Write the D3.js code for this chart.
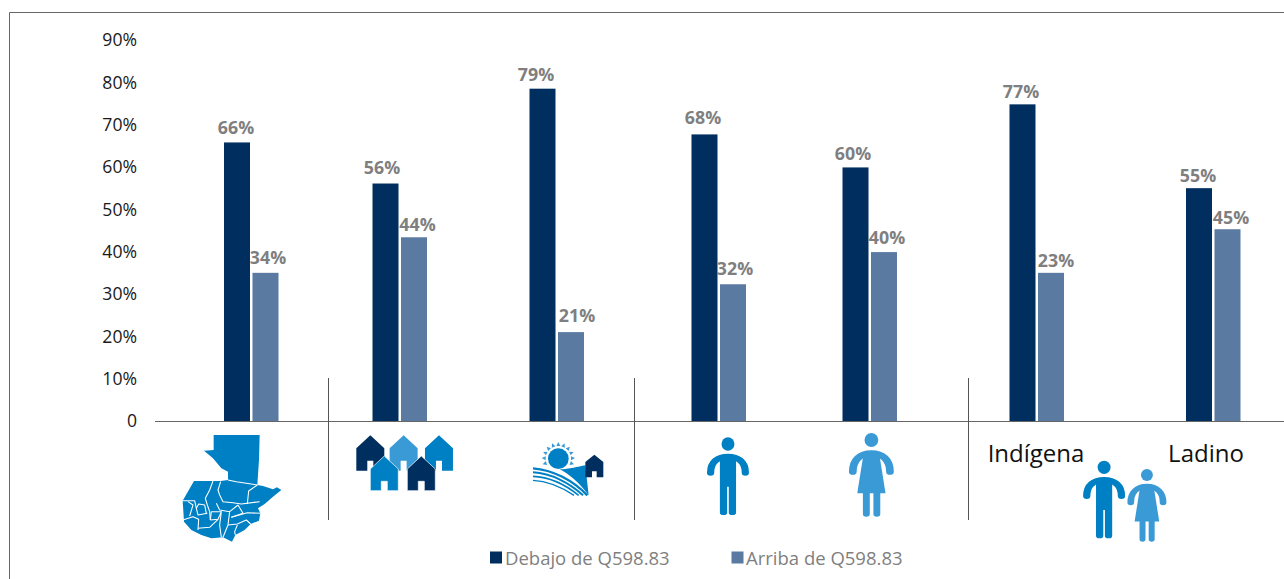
<!DOCTYPE html>
<html>
<head>
<meta charset="utf-8">
<script src="https://cdn.jsdelivr.net/npm/d3@7"></script>
<style>
html,body{margin:0;padding:0;background:#fff;overflow:hidden}
svg{display:block}
text{font-family:"Open Sans",sans-serif}
</style>
</head>
<body>
<svg id="c" width="1284" height="579"></svg>
<script>
const groups = ["Nacional","Urbano","Rural","Hombres","Mujeres","Indígena","Ladino"];
const seriesNames = ["Debajo de Q598.83","Arriba de Q598.83"];
const below = [65.8,56.1,78.5,67.7,59.9,74.8,55.0];
const above = [35.0,43.4,21.0,32.3,39.9,35.0,45.3];
const belowLabels = ["66%","56%","79%","68%","60%","77%","55%"];
const aboveLabels = ["34%","44%","21%","32%","40%","23%","45%"];
const yTicks = [0,10,20,30,40,50,60,70,80,90];
const colors = ["#002f5f","#5b7aa1"];
const BLUE="#0080c4", LIGHT="#3a9ad5", DARK="#002f5f";

const svg = d3.select("#c");
const y = d3.scaleLinear().domain([0,90]).range([421,40]);
const xGroup = d3.scaleOrdinal().domain(groups).range([251,399.5,556.5,718.5,869.5,1036.5,1213]);
const barW = 26, gap = 2;

// frame
svg.append("path").attr("d","M9.5,579V12.5H1284").attr("fill","none").attr("stroke","#666").attr("stroke-width",1);

// y axis labels
const axis = d3.axisLeft(y).tickValues(yTicks).tickSize(0).tickPadding(0)
  .tickFormat(d=>d===0?"0":d+"%");
const gy = svg.append("g").attr("transform","translate(137,0.2)").call(axis);
gy.select(".domain").remove();
gy.selectAll("text").attr("font-size",17.6).attr("fill","#1a1a1a").style("font-family",'"Open Sans",sans-serif');

// bars
const offs = [-(barW+gap/2), gap/2+0.5];
[below,above].forEach((vals,s)=>{
  svg.append("g").selectAll("rect").data(vals).join("rect")
    .attr("x",(d,i)=>xGroup(groups[i])+offs[s])
    .attr("y",d=>y(d)).attr("width",barW).attr("height",d=>y(0)-y(d))
    .attr("fill",colors[s]);
});

// baseline & dividers
svg.append("line").attr("x1",155).attr("x2",1284).attr("y1",421.5).attr("y2",421.5).attr("stroke","#666").attr("stroke-width",1.2);
[328.5,634.5,968.5].forEach(x=>svg.append("line").attr("x1",x).attr("x2",x).attr("y1",378).attr("y2",520).attr("stroke","#555").attr("stroke-width",1));

// data labels, with the small hand placement seen in the reference
const belowNudge = [[-15,-8],[-17.5,-10],[-20.5,-8],[-15.5,-10],[-16.5,-7],[-15.5,-6],[-15,-6]];
const aboveNudge = [[17,-9],[18,-6],[20.5,-10],[16.5,-9],[17.5,-8],[19.5,-6],[18,-5]];
[[below,belowLabels,belowNudge],[above,aboveLabels,aboveNudge]].forEach(([vals,labs,nudge])=>{
  svg.append("g").selectAll("text").data(labs).join("text")
    .attr("x",(d,i)=>xGroup(groups[i])+nudge[i][0])
    .attr("y",(d,i)=>y(vals[i])+nudge[i][1])
    .attr("text-anchor","middle").attr("font-size",17.8).attr("font-weight",700)
    .attr("fill","#7f7f7f").text(d=>d);
});

// ethnicity text
[["Indígena",groups[5],-0.5],["Ladino",groups[6],-7]].forEach(([t,g,dx])=>{
  svg.append("text").attr("x",xGroup(g)+dx).attr("y",462).attr("text-anchor","middle")
    .attr("font-size",24).attr("fill","#111").text(t);
});

// ICONS
// --- map
const mapG = svg.append("g").attr("transform","translate(178,430) scale(0.3333)");
mapG.append("path").attr("fill",BLUE).attr("d","M107,15L245,15L243,90L238,165L255,168L285,178L297,172L310,180L285,200L260,222L240,235L247,250L243,272L218,282L200,300L172,315L162,335L135,322L100,325L70,315L40,300L18,275L14,212L48,153L128,153L150,150L150,125L130,115L105,85L78,62L107,60Z");
const depLines = [
 "M150,150L175,155L205,160L238,165",
 "M105,153L95,180L82,205L88,225L95,245L97,270",
 "M128,155L120,180L125,195L135,215L165,218L190,222L245,215",
 "M238,165L212,183L208,222",
 "M115,220L125,240L155,245L180,225",
 "M180,225L195,250L160,262",
 "M14,212L50,212L55,235L60,255L88,250",
 "M55,235L62,222L80,225L85,250",
 "M30,215L45,225L35,258",
 "M14,270L45,260L62,268L60,300",
 "M97,270L120,268L130,245L125,285L130,322",
 "M60,295L95,292L120,268",
 "M155,245L150,285L135,322",
 "M160,262L208,248L247,250",
 "M150,285L178,282L205,270L218,282",
 "M178,285L170,305L172,315",
 "M97,270L100,245L130,245"
];
mapG.append("g").selectAll("path").data(depLines).join("path").attr("d",d=>d)
  .attr("fill","none").attr("stroke","#fff").attr("stroke-width",3.2).attr("stroke-linejoin","round");

// --- houses
function house(g,cx,top,hw,shoulder,bottom,doorHw,doorTop,col,outline){
  g.append("path").attr("fill",col)
   .attr("stroke",outline?"#fff":"none").attr("stroke-width",outline?2:0)
   .attr("d",`M${cx},${top}L${cx+hw},${shoulder}V${bottom}H${cx+doorHw}V${doorTop}H${cx-doorHw}V${bottom}H${cx-hw}V${shoulder}Z`);
}
const left = svg.append("g").attr("transform","translate(150,420) scale(0.3333)");
house(left,661,46,42,85,152,9,122,DARK);
house(left,761,46,42,85,152,9,122,LIGHT);
house(left,867,46,42,85,152,9,122,BLUE);
house(left,703,108,42,147,212,9,184,BLUE,true);
house(left,814,108,42,147,212,9,184,DARK,true);

// --- rural
const rural = svg.append("g").attr("transform","translate(528,438) scale(0.3333)");
rural.append("circle").attr("cx",91).attr("cy",62).attr("r",31).attr("fill",BLUE);
d3.range(-200,21,22).forEach(a=>{
  rural.append("path").attr("d","M38,-6L50,0L38,6Z").attr("fill",LIGHT)
    .attr("transform",`translate(91,62) rotate(${a})`);
});
rural.append("path").attr("fill",BLUE).attr("d","M95,94C125,94 150,86 172,82L182,172C150,130 125,110 95,94Z");
[["M15,91C75,95 135,128 178,172",7],["M15,103C70,106 125,135 165,172",6],["M15,115C65,117 115,142 152,172",5],["M15,127C60,129 105,150 138,172",4]]
 .forEach(([d,w])=>rural.append("path").attr("d",d).attr("fill","none").attr("stroke",BLUE).attr("stroke-width",w));
house(rural,199,50,27,72,118,7,100,DARK);

// --- people
function man(g,cx,dy,col){
  const p=g.append("g").attr("transform",`translate(${cx},${dy})`);
  p.append("ellipse").attr("cx",0).attr("cy",72).attr("rx",16).attr("ry",20).attr("fill",col);
  p.append("path").attr("d","M-43,158C-43,125 -25,110 0,110C25,110 43,125 43,158").attr("fill","none").attr("stroke",col).attr("stroke-width",18).attr("stroke-linecap","round");
  p.append("path").attr("fill",col).attr("d","M-20,105H20V278A9,7 0 0 1 2,278V200H-2V278A9,7 0 0 1 -20,278Z");
}
function woman(g,cx,cy,k,col){
  const p=g.append("g").attr("transform",`translate(${cx},${cy}) scale(${k})`);
  p.append("ellipse").attr("cx",0).attr("cy",-100).attr("rx",17).attr("ry",21).attr("fill",col);
  p.append("path").attr("d","M-46,-5C-46,-40 -28,-60 0,-60C28,-60 46,-40 46,-5").attr("fill","none").attr("stroke",col).attr("stroke-width",19).attr("stroke-linecap","round");
  p.append("path").attr("fill",col).attr("d","M-19,-62H19L35,60H-35Z");
  p.append("path").attr("fill",col).attr("d","M-21,55H-4V122A8.5,8 0 0 1 -21,122ZM5,55H22V122A8.5,8 0 0 1 5,122Z");
}
const right = svg.append("g").attr("transform","translate(650,420) scale(0.404,0.3333)");
man(right,193,0,BLUE);
woman(right,548,160,1,LIGHT);
man(right,1124,70,BLUE);
woman(right,1230,252,0.87,LIGHT);

// legend
const legendX = [490,731.5], textX=[505,746];
seriesNames.forEach((n,i)=>{
  svg.append("rect").attr("x",legendX[i]).attr("y",551.5).attr("width",12).attr("height",12).attr("fill",colors[i]);
  svg.append("text").attr("x",textX[i]).attr("y",565).attr("font-size",18.5).attr("fill","#7f7f7f").text(n);
});
</script>
</body>
</html>
